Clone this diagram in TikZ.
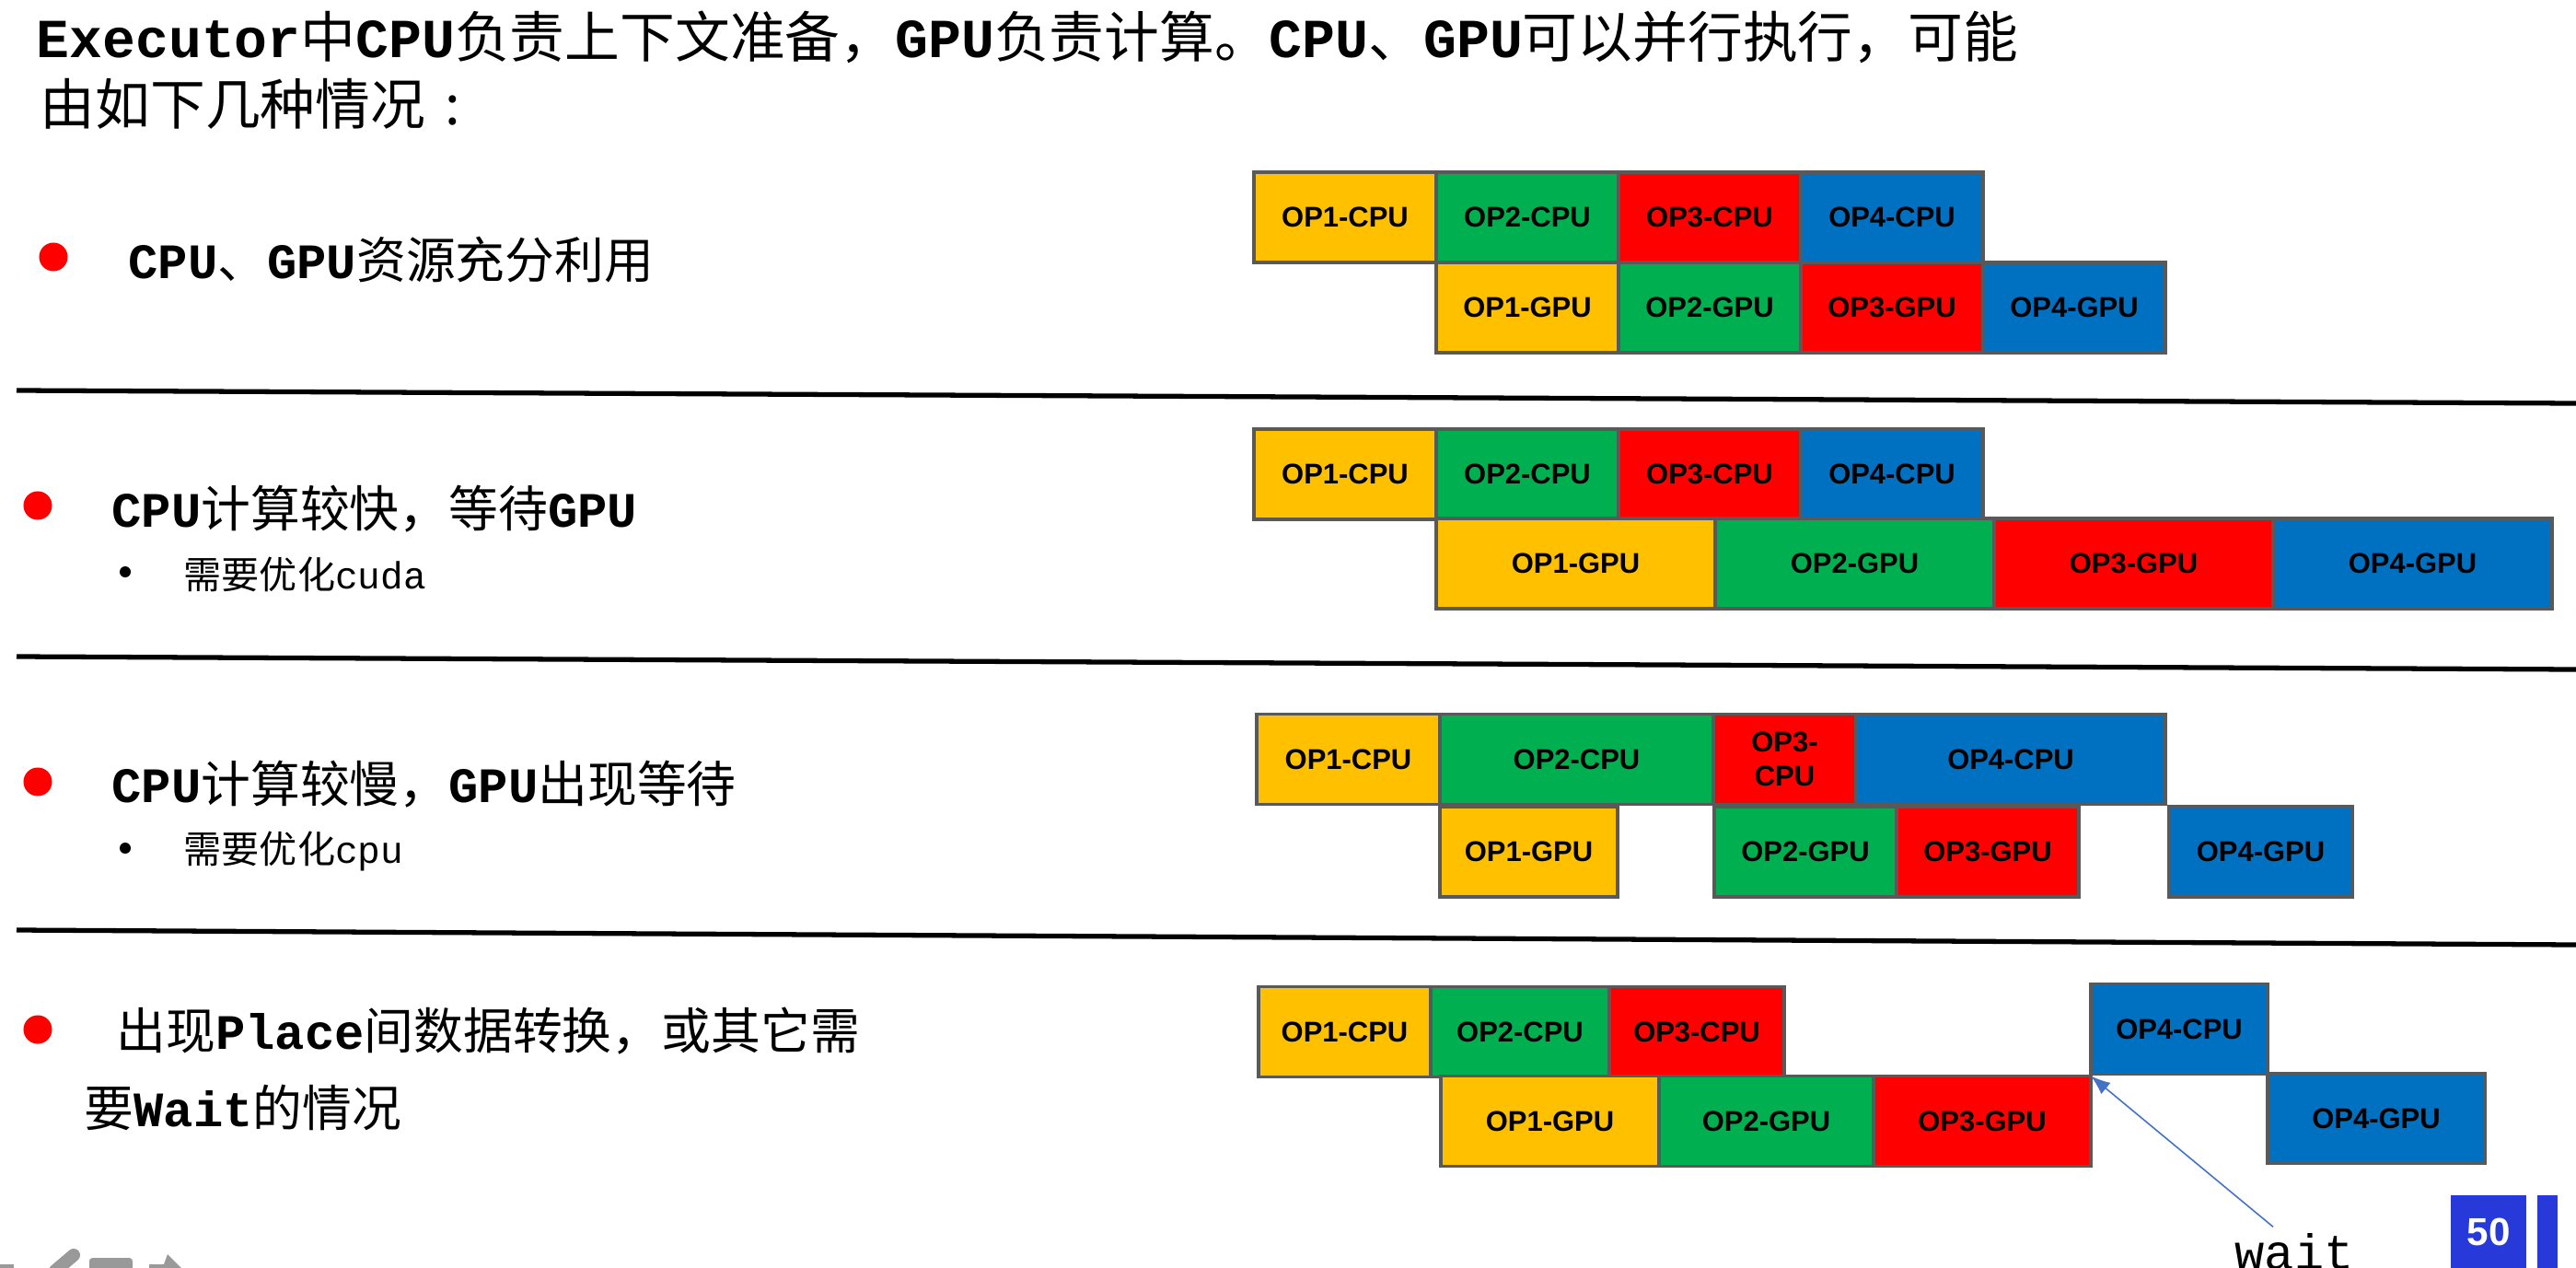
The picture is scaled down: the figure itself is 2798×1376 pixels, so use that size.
\documentclass[tikz,border=0pt]{standalone}
\usepackage{fontspec}
\setmainfont{Noto Sans CJK SC}
\newfontfamily\cour{Liberation Mono}
\newfontfamily\lsans{Liberation Sans}
\usepackage{xcolor}
\usetikzlibrary{arrows.meta}

\definecolor{opyellow}{HTML}{FFC000}
\definecolor{opgreen}{HTML}{00B050}
\definecolor{opred}{HTML}{FF0000}
\definecolor{opblue}{HTML}{0070C0}
\definecolor{boxgray}{HTML}{595959}
\definecolor{arrowblue}{HTML}{4472C4}
\definecolor{pageblue}{HTML}{2739D9}
\definecolor{icongray}{HTML}{999999}

\newcommand{\cb}[1]{{\cour\bfseries #1}}

\tikzset{
    opbox/.style={draw=boxgray, line width=1.1pt, inner sep=0pt, outer sep=0pt,
        minimum height=0.98cm, align=center,
        font=\lsans\bfseries\fontsize{8.8}{10.5}\selectfont},
    op1/.style={opbox, fill=opyellow},
    op2/.style={opbox, fill=opgreen},
    op3/.style={opbox, fill=opred},
    op4/.style={opbox, fill=opblue},
    titletext/.style={anchor=west, inner sep=0pt, font=\fontsize{17}{20}\selectfont},
    headtext/.style={anchor=west, inner sep=0pt, font=\fontsize{15.3}{18}\selectfont},
    subtext/.style={anchor=west, inner sep=0pt, font=\fontsize{11.7}{14}\selectfont},
    subdot/.style={circle, fill=black, inner sep=0pt, minimum size=0.12cm},
    bulletdot/.style={circle, fill=opred, inner sep=0pt, minimum size=0.31cm},
    sepline/.style={line width=1.5pt, black},
    waitarrow/.style={-{Latex[length=6pt,width=4.5pt]}, arrowblue, line width=0.45pt}
}

\begin{document}
\begin{tikzpicture}[x=0.01cm, y=-0.01cm]
        \useasboundingbox (0,0) rectangle (2798,1376);

        \node[titletext] (t1) at (39,40) {\cb{Executor}中\cb{CPU}负责上下文准备，\cb{GPU}负责计算。\cb{CPU}、\cb{GPU}可以并行执行，可能};
        \node[titletext] (t2) at (43,113) {由如下几种情况\hspace{0.35em}:};

        % case 1
        \node[bulletdot] (b1) at (58,279) {};
        \node[headtext] (h1) at (139,282) {\cb{CPU}、\cb{GPU}资源充分利用};

        \node[op1, minimum width=1.98cm] (r1c1) at (1461,236) {OP1-CPU};
        \node[op2, minimum width=1.98cm] (r1c2) at (1659,236) {OP2-CPU};
        \node[op3, minimum width=1.98cm] (r1c3) at (1857,236) {OP3-CPU};
        \node[op4, minimum width=1.98cm] (r1c4) at (2055,236) {OP4-CPU};

        \node[op1, minimum width=1.98cm] (r1g1) at (1659,334) {OP1-GPU};
        \node[op2, minimum width=1.98cm] (r1g2) at (1857,334) {OP2-GPU};
        \node[op3, minimum width=1.98cm] (r1g3) at (2055,334) {OP3-GPU};
        \node[op4, minimum width=1.98cm] (r1g4) at (2253,334) {OP4-GPU};

        \draw[sepline] (18,424) -- (2798,438);

        % case 2
        \node[bulletdot] (b2) at (41,549) {};
        \node[headtext] (h2) at (121,553) {\cb{CPU}计算较快，等待\cb{GPU}};
        \node[subdot] (s2dot) at (136,621) {};
        \node[subtext] (s2) at (199,624) {需要优化{\cour cuda}};

        \node[op1, minimum width=1.98cm] (r2c1) at (1461,515) {OP1-CPU};
        \node[op2, minimum width=1.98cm] (r2c2) at (1659,515) {OP2-CPU};
        \node[op3, minimum width=1.98cm] (r2c3) at (1857,515) {OP3-CPU};
        \node[op4, minimum width=1.98cm] (r2c4) at (2055,515) {OP4-CPU};

        \node[op1, minimum width=3.03cm] (r2g1) at (1711.5,612) {OP1-GPU};
        \node[op2, minimum width=3.03cm] (r2g2) at (2014.5,612) {OP2-GPU};
        \node[op3, minimum width=3.03cm] (r2g3) at (2317.5,612) {OP3-GPU};
        \node[op4, minimum width=3.03cm] (r2g4) at (2620.5,612) {OP4-GPU};

        \draw[sepline] (18,713) -- (2798,727);

        % case 3
        \node[bulletdot] (b3) at (41,849) {};
        \node[headtext] (h3) at (121,852) {\cb{CPU}计算较慢，\cb{GPU}出现等待};
        \node[subdot] (s3dot) at (136,921) {};
        \node[subtext] (s3) at (199,924) {需要优化{\cour cpu}};

        \node[op1, minimum width=1.99cm] (r3c1) at (1464.5,824.5) {OP1-CPU};
        \node[op2, minimum width=2.97cm] (r3c2) at (1712.5,824.5) {OP2-CPU};
        \node[op3, minimum width=1.55cm] (r3c3) at (1938.5,824.5) {OP3-\\CPU};
        \node[op4, minimum width=3.36cm] (r3c4) at (2184,824.5) {OP4-CPU};

        \node[op1, minimum width=1.93cm] (r3g1) at (1660.5,925) {OP1-GPU};
        \node[op2, minimum width=1.98cm] (r3g2) at (1961,925) {OP2-GPU};
        \node[op3, minimum width=1.98cm] (r3g3) at (2159,925) {OP3-GPU};
        \node[op4, minimum width=1.99cm] (r3g4) at (2455.5,925) {OP4-GPU};

        \draw[sepline] (18,1010) -- (2798,1026);

        % case 4
        \node[bulletdot] (b4) at (41,1118) {};
        \node[headtext] (h4) at (126,1120) {出现\cb{Place}间数据转换，或其它需};
        \node[headtext] (h4b) at (91,1203) {要\cb{Wait}的情况};

        \node[op1, minimum width=1.87cm] (r4c1) at (1460.5,1120.5) {OP1-CPU};
        \node[op2, minimum width=1.94cm] (r4c2) at (1651,1120.5) {OP2-CPU};
        \node[op3, minimum width=1.90cm] (r4c3) at (1843,1120.5) {OP3-CPU};
        \node[op4, minimum width=1.92cm] (r4c4) at (2367,1117.5) {OP4-CPU};

        \node[op1, minimum width=2.37cm] (r4g1) at (1683.5,1217.5) {OP1-GPU};
        \node[op2, minimum width=2.33cm] (r4g2) at (1918.5,1217.5) {OP2-GPU};
        \node[op3, minimum width=2.36cm] (r4g3) at (2153,1217.5) {OP3-GPU};
        \node[op4, minimum width=2.36cm] (r4g4) at (2581,1214.5) {OP4-GPU};

        \node[anchor=base, inner sep=0pt, font=\cour\fontsize{15.3}{18}\selectfont] (wait) at (2492,1378) {wait};
        \draw[waitarrow] ([xshift=-0.23cm,yshift=0.06cm]wait.north) -- (r4g3.north east);

        % page number and toolbar
        \fill[pageblue] (2662,1298) rectangle (2744,1390);
        \fill[pageblue] (2756,1298) rectangle (2778,1390);
        \node[text=white, inner sep=0pt, font=\lsans\bfseries\fontsize{12}{14}\selectfont] (pgno) at (2703,1338) {50};

        \fill[icongray] (0,1373) rectangle (15,1380);
        \draw[icongray, line width=4pt, line cap=round] (60,1380) -- (80,1363);
        \fill[icongray, rounded corners=1pt] (97,1366) rectangle (144,1380);
        \fill[icongray] (162,1373) -- (178,1373) -- (182,1362) -- (200,1380) -- (162,1380) -- cycle;
\end{tikzpicture}
\end{document}
